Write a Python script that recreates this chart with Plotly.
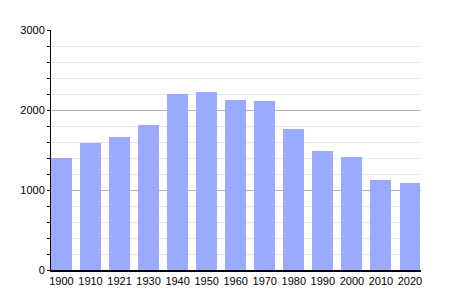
import plotly.graph_objects as go

years = ["1900", "1910", "1921", "1930", "1940", "1950", "1960", "1970", "1980", "1990", "2000", "2010", "2020"]
population = [1404, 1585, 1660, 1808, 2200, 2225, 2125, 2112, 1760, 1487, 1412, 1125, 1088]
y_ticks = [0, 1000, 2000, 3000]

xpos = list(range(len(years)))

fig = go.Figure()
fig.add_trace(go.Bar(
    x=xpos, y=population, width=0.72,
    marker=dict(color="#9aabff", line=dict(width=0)),
))

fig.update_layout(
    width=450, height=300,
    margin=dict(l=51, r=29, t=30, b=30),
    paper_bgcolor="white", plot_bgcolor="white",
    showlegend=False,
    font=dict(family="Liberation Sans, Arial, sans-serif", size=11, color="#000"),
    bargap=0,
)
fig.update_xaxes(
    tickmode="array", tickvals=xpos, ticktext=years,
    range=[-0.36, 12.38], showgrid=False,
    showline=True, linecolor="#000", linewidth=1.5,
    ticks="", zeroline=False, tickfont=dict(size=11),
)
fig.update_yaxes(
    range=[0, 3000], tickmode="array", tickvals=y_ticks,
    showgrid=True, gridcolor="#b4b4b4", gridwidth=1,
    minor=dict(dtick=200, showgrid=True, gridcolor="#e6e6e6", gridwidth=1,
               ticks="outside", ticklen=3, tickcolor="#000"),
    ticks="outside", ticklen=3, tickcolor="#000",
    showline=True, linecolor="#000", linewidth=1,
    zeroline=False, tickfont=dict(size=11),
)

fig.write_html("out.html")
